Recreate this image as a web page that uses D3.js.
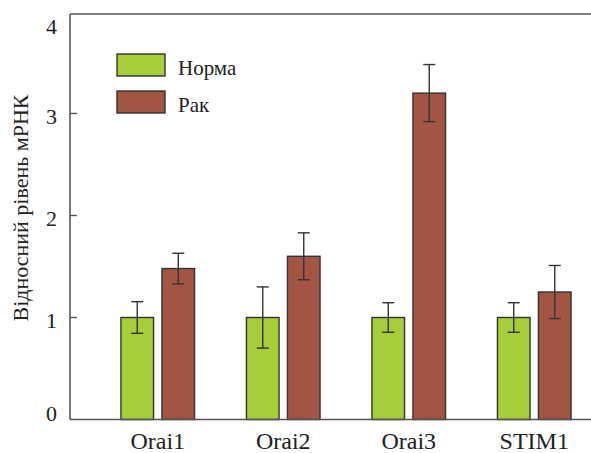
<!DOCTYPE html>
<html><head><meta charset="utf-8"><script src="https://cdn.jsdelivr.net/npm/d3@7"></script></head>
<body style="margin:0">
<svg id="chart" width="591" height="453"></svg>
<script>
// Relative mRNA levels of Orai1-3 and STIM1, normal vs cancer tissue
const genes = ["Orai1", "Orai2", "Orai3", "STIM1"];
const seriesNames = ["Норма", "Рак"];
const normaValues = [1.0, 1.0, 1.0, 1.0];
const normaErrors = [0.155, 0.30, 0.145, 0.145];
const rakValues = [1.48, 1.60, 3.20, 1.25];
const rakErrors = [0.15, 0.23, 0.28, 0.26];
const yTicks = [0, 1, 2, 3, 4];
const yTitle = "Відносний рівень мРНК";

const colors = { "Норма": "#a6cd3a", "Рак": "#a25542" };
const strokeColor = "#333";
const fontName = "Liberation Serif";

const W = 591;
const plotLeft = 70, plotTop = 14, plotBottom = 419.5;

const svg = d3.select("#chart");

const x0 = d3.scaleBand().domain(genes).range([95, 597]);
const x1 = d3.scaleBand().domain(seriesNames).range([0, 73.6]).paddingInner(0.205);
const y = d3.scaleLinear().domain([0, 4]).range([plotBottom, 11.5]);

const bars = [];
genes.forEach((g, i) => {
  bars.push({ gene: g, s: "Норма", v: normaValues[i], e: normaErrors[i] });
  bars.push({ gene: g, s: "Рак", v: rakValues[i], e: rakErrors[i] });
});
const barX = d => x0(d.gene) + x0.bandwidth() / 2 - 36.8 + x1(d.s);
const cx = d => barX(d) + x1.bandwidth() / 2;

// bars
svg.selectAll("rect.bar").data(bars).join("rect").attr("class", "bar")
  .attr("x", barX)
  .attr("y", d => y(d.v))
  .attr("width", x1.bandwidth())
  .attr("height", d => y(0) - y(d.v))
  .attr("fill", d => colors[d.s])
  .attr("stroke", strokeColor)
  .attr("stroke-width", 1.4);

// error bars: stem and two caps
svg.selectAll("line.stem").data(bars).join("line").attr("class", "stem")
  .attr("x1", cx).attr("x2", cx)
  .attr("y1", d => y(d.v + d.e)).attr("y2", d => y(d.v - d.e))
  .attr("stroke", strokeColor).attr("stroke-width", 1.4);
svg.selectAll("line.capTop").data(bars).join("line").attr("class", "capTop")
  .attr("x1", d => cx(d) - 6).attr("x2", d => cx(d) + 6)
  .attr("y1", d => y(d.v + d.e)).attr("y2", d => y(d.v + d.e))
  .attr("stroke", strokeColor).attr("stroke-width", 1.4);
svg.selectAll("line.capBot").data(bars).join("line").attr("class", "capBot")
  .attr("x1", d => cx(d) - 6).attr("x2", d => cx(d) + 6)
  .attr("y1", d => y(d.v - d.e)).attr("y2", d => y(d.v - d.e))
  .attr("stroke", strokeColor).attr("stroke-width", 1.4);

// frame: left axis, top line and baseline
const frameLines = [
  [plotLeft, plotTop, plotLeft, plotBottom],
  [plotLeft, plotTop, W, plotTop],
  [plotLeft, plotBottom, W, plotBottom]
];
svg.selectAll("line.frame").data(frameLines).join("line").attr("class", "frame")
  .attr("x1", d => d[0]).attr("y1", d => d[1]).attr("x2", d => d[2]).attr("y2", d => d[3])
  .attr("stroke", "#555").attr("stroke-width", 1.6);

// inward ticks
svg.selectAll("line.tick").data(yTicks.filter(t => t > 0 && t < 4)).join("line").attr("class", "tick")
  .attr("x1", plotLeft).attr("x2", plotLeft + 7)
  .attr("y1", d => y(d)).attr("y2", d => y(d))
  .attr("stroke", "#555").attr("stroke-width", 1.4);

// tick labels
const labelShift = { 0: -6.5, 4: 14.5 };
svg.selectAll("text.ytick").data(yTicks).join("text").attr("class", "ytick")
  .attr("x", 57).attr("y", d => y(d) + (labelShift[d] || 2.5) + 7.5)
  .attr("text-anchor", "end")
  .attr("font-size", 22).attr("fill", "#222")
  .style("font-family", `"${fontName}"`)
  .text(d => d);

// category labels
svg.selectAll("text.gene").data(genes).join("text").attr("class", "gene")
  .attr("x", d => x0(d) + x0.bandwidth() / 2)
  .attr("y", 449)
  .attr("text-anchor", "middle")
  .attr("font-size", 24).attr("fill", "#222")
  .style("font-family", `"${fontName}"`)
  .text(d => d);

// y-axis title
svg.selectAll("text.ytitle").data([yTitle]).join("text").attr("class", "ytitle")
  .attr("transform", "translate(28,208) rotate(-90)")
  .attr("text-anchor", "middle")
  .attr("font-size", 22).attr("fill", "#222")
  .style("font-family", `"${fontName}"`)
  .text(d => d);

// legend
svg.selectAll("rect.key").data(seriesNames).join("rect").attr("class", "key")
  .attr("x", 117).attr("y", (d, i) => 54 + i * 37)
  .attr("width", 48).attr("height", 22)
  .attr("fill", d => colors[d]).attr("stroke", strokeColor).attr("stroke-width", 1.4);
svg.selectAll("text.key").data(seriesNames).join("text").attr("class", "key")
  .attr("x", 178).attr("y", (d, i) => 75 + i * 37)
  .attr("font-size", 21).attr("fill", "#222")
  .style("font-family", `"${fontName}"`)
  .text(d => d);
</script>
</body></html>
